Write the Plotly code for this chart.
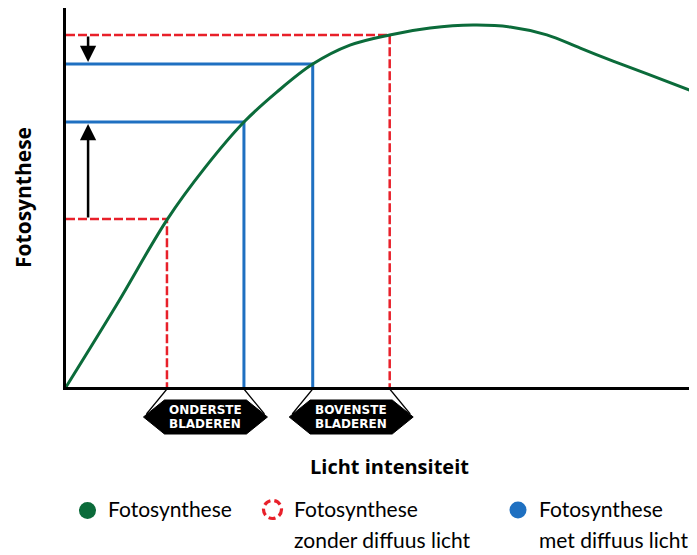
import plotly.graph_objects as go

# Light intensity (0-100) and photosynthesis (0-100)
light = [0, 8.1, 16.0, 22.0, 28.2, 33.4, 39.1, 45.0, 51.3, 57.7, 64.5, 70.4, 76.2, 81.5, 86.7, 92.1, 100]
photo = [0, 21.9, 44.1, 57.8, 69.9, 77.8, 85.2, 90.2, 92.9, 94.7, 95.5, 95.0, 92.9, 89.4, 86.0, 82.6, 77.6]

# Working points: lower leaves / upper leaves
light_red = [16.0, 51.3]     # without diffuse light
photo_red = [44.3, 92.9]
light_blue = [28.2, 39.1]    # with diffuse light
photo_blue = [69.9, 85.2]

badge_labels = [["ONDERSTE", "BLADEREN"], ["BOVENSTE", "BLADEREN"]]
badge_spans = [(light_red[0], light_blue[0]), (light_blue[1], light_red[1])]

legend_labels = [["Fotosynthese"],
                 ["Fotosynthese", "zonder diffuus licht"],
                 ["Fotosynthese", "met diffuus licht"]]

GREEN = "#0b6b3a"
RED = "#e8202a"
BLUE = "#1f70c1"

OFF = 8                      # page body margin in the browser
WIN_W, WIN_H = 697, 555
W, H = WIN_W - OFF, WIN_H - OFF
PL, PT, PB = 66, 8, 387      # plot area in window pixels
PW, PH = WIN_W - PL, PB - PT


def px(xp):
    return (xp - PL) / PW


def py(yp):
    return (PB - yp) / PH


fig = go.Figure()

# drop lines
for lx, ly in zip(light_red, photo_red):
    fig.add_trace(go.Scatter(x=[0, lx, lx], y=[ly, ly, 0], mode="lines",
                             line=dict(color=RED, width=2.5, dash="9px,3px"),
                             hoverinfo="skip", showlegend=False))
for lx, ly in zip(light_blue, photo_blue):
    fig.add_trace(go.Scatter(x=[0, lx, lx], y=[ly, ly, 0], mode="lines",
                             line=dict(color=BLUE, width=3),
                             hoverinfo="skip", showlegend=False))

# curve
fig.add_trace(go.Scatter(x=light, y=photo, mode="lines",
                         line=dict(color=GREEN, width=3, shape="spline", smoothing=1.0),
                         showlegend=False))

# arrows
arrow_x = 3.5
for yr, yb in zip(photo_red, photo_blue):
    fig.add_annotation(x=arrow_x, y=yb, ax=arrow_x, ay=yr, xref="x", yref="y",
                       axref="x", ayref="y", showarrow=True, arrowhead=2,
                       arrowsize=1.3, arrowwidth=2.5, arrowcolor="black",
                       standoff=2, text="")

shapes = []
# badges
for (x0, x1), lab in zip(badge_spans, badge_labels):
    cx = (x0 + x1) / 2 / 100
    hw = 62 / PW
    tw = 41 / PW
    ytop, ymid, ybot = py(400), py(417), py(434)
    path = (f"M {cx-hw},{ymid} L {cx-tw},{ytop} L {cx+tw},{ytop} L {cx+hw},{ymid} "
            f"L {cx+tw},{ybot} L {cx-tw},{ybot} Z")
    shapes.append(dict(type="path", path=path, xref="paper", yref="paper",
                       fillcolor="black", line=dict(color="black", width=1)))
    shapes.append(dict(type="line", xref="paper", yref="paper",
                       x0=x0 / 100, y0=py(389), x1=cx - hw + 3 / PW, y1=py(414),
                       line=dict(color="black", width=1.2)))
    shapes.append(dict(type="line", xref="paper", yref="paper",
                       x0=x1 / 100, y0=py(389), x1=cx + hw - 3 / PW, y1=py(414),
                       line=dict(color="black", width=1.2)))
    for i, t in enumerate(lab):
        fig.add_annotation(x=cx, y=py(410 + 13.5 * i), xref="paper", yref="paper",
                           text="<b>" + t + "</b>", showarrow=False,
                           xanchor="center", yanchor="middle",
                           font=dict(family="DejaVu Sans", size=12, color="white"))

# legend
leg_items = [(87.5, 510.5, GREEN, "fill"), (272.5, 509.5, RED, "dash"), (518, 510, BLUE, "fill")]
text_x = [106, 292, 537]
for (cxp, cyp, col, kind), lines, tx in zip(leg_items, legend_labels, text_x):
    if kind == "fill":
        r = 8.5
        shapes.append(dict(type="circle", xref="paper", yref="paper",
                           x0=px(cxp - r), x1=px(cxp + r), y0=py(cyp + r), y1=py(cyp - r),
                           fillcolor=col, line=dict(color=col, width=0)))
    else:
        r = 9
        shapes.append(dict(type="circle", xref="paper", yref="paper",
                           x0=px(cxp - r), x1=px(cxp + r), y0=py(cyp + r), y1=py(cyp - r),
                           fillcolor="rgba(0,0,0,0)",
                           line=dict(color=col, width=3.2, dash="7px,4px")))
    for i, t in enumerate(lines):
        fig.add_annotation(x=px(tx), y=py(509 + 30 * i), xref="paper", yref="paper",
                           text=t, showarrow=False, xanchor="left", yanchor="middle",
                           font=dict(family="Lato", size=21, color="black"))

# axis titles
fig.add_annotation(x=px(389), y=py(466), xref="paper", yref="paper",
                   text="<b>Licht intensiteit</b>", showarrow=False,
                   xanchor="center", yanchor="middle",
                   font=dict(family="Open Sans", size=20, color="black"))
fig.add_annotation(x=px(23), y=py(197), xref="paper", yref="paper",
                   text="<b>Fotosynthese</b>", showarrow=False, textangle=-90,
                   xanchor="center", yanchor="middle",
                   font=dict(family="Open Sans", size=21, color="black"))

fig.update_layout(
    width=W, height=H,
    margin=dict(l=PL - OFF, r=0, t=PT - OFF, b=H - (PB - OFF), pad=0),
    plot_bgcolor="white", paper_bgcolor="white",
    shapes=shapes,
    xaxis=dict(range=[0, 100], showgrid=False, zeroline=False, showticklabels=False,
               ticks="", showline=True, linecolor="black", linewidth=3, fixedrange=True),
    yaxis=dict(range=[0, 100], showgrid=False, zeroline=False, showticklabels=False,
               ticks="", showline=True, linecolor="black", linewidth=3, fixedrange=True),
    showlegend=False,
)

fig.write_html("out.html")
